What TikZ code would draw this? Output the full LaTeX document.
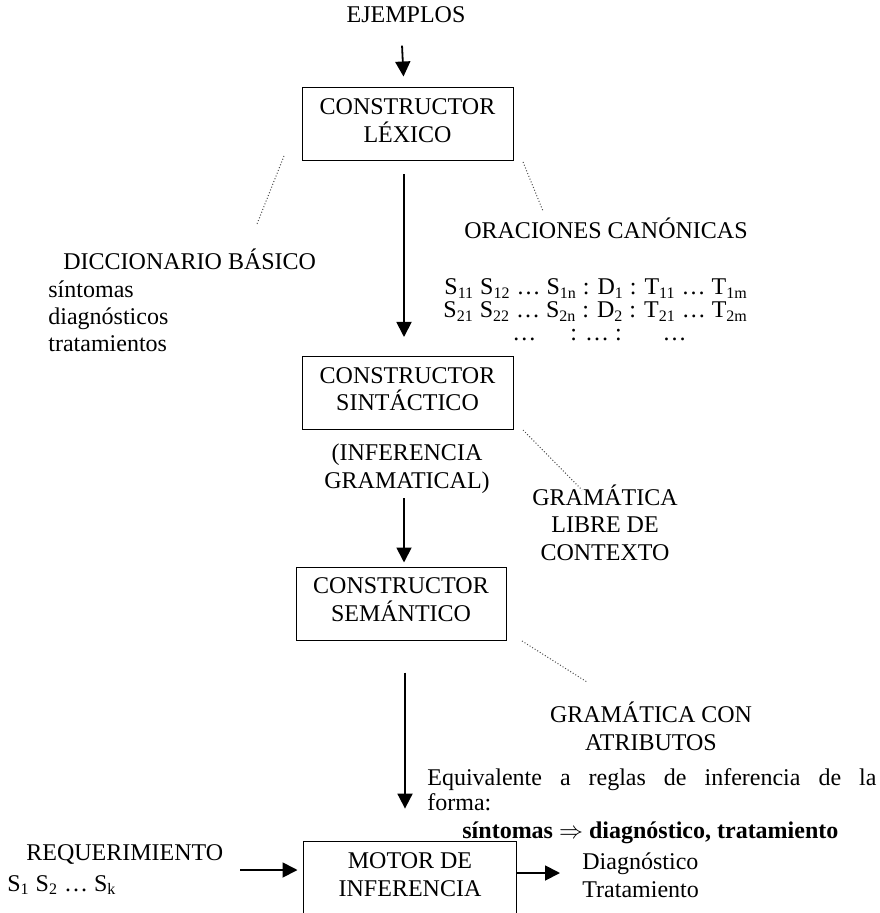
\documentclass[tikz,border=0pt]{standalone}
\usepackage{fontspec}
\setmainfont{Liberation Serif}
\usetikzlibrary{arrows.meta}

\tikzset{
  caja/.style={draw, line width=0.5pt, minimum width=105.5pt, minimum height=36.5pt,
    align=center, text depth=4pt, inner sep=0pt},
  texto/.style={inner sep=0pt, align=center},
  flecha/.style={-{Triangle[width=7.5pt,length=7.5pt]}, line width=0.9pt},
  punteado/.style={densely dotted, line width=0.5pt, black!70}
}

\begin{document}
\fontsize{12pt}{13.7pt}\selectfont
\begin{tikzpicture}[x=0.5pt,y=-0.5pt]
        \useasboundingbox (0,0) rectangle (879,913);
        \clip (0,0) rectangle (879,913);

        % Boxes
        \node (lexico) [caja] at (407.5,124.5) {CONSTRUCTOR\\LÉXICO};
        \node (sintactico) [caja] at (407.5,393) {CONSTRUCTOR\\SINTÁCTICO};
        \node (semantico) [caja, minimum width=105pt] at (401,603.5) {CONSTRUCTOR\\SEMÁNTICO};
        \node (motor) [caja, draw=none, minimum width=106pt] at (410,878.6) {MOTOR DE\\INFERENCIA};
        \draw[line width=0.5pt] ([yshift=-10pt]motor.south west) -- (motor.north west)
          -- (motor.north east) -- ([yshift=-10pt]motor.south east);

        % Labels (multi-line ones sit on the baseline of their last line)
        \node (ejemplos) [texto, anchor=base] at (406,23) {EJEMPLOS};
        \node (dicc) [texto, anchor=base west] at (63,270) {DICCIONARIO BÁSICO};
        \node (dicclista) [texto, align=left, anchor=base west] at (48,352) {síntomas\\diagnósticos\\tratamientos};
        \node (oraciones) [texto, anchor=base] at (606,239) {ORACIONES CANÓNICAS};
        \node (seq1) [texto, anchor=base west] at (444,295)
          {S\textsubscript{11} S\textsubscript{12} … S\textsubscript{1n} : D\textsubscript{1} : T\textsubscript{11} … T\textsubscript{1m}};
        \node (seq2) [texto, anchor=base west] at (443,318)
          {S\textsubscript{21} S\textsubscript{22} … S\textsubscript{2n} : D\textsubscript{2} : T\textsubscript{21} … T\textsubscript{2m}};
        \node (seq3) [texto, anchor=base west] at (512,341) {…\hspace{17pt}: … :\hspace{20.5pt}…};
        \node (inferencia) [texto, anchor=base] at (407,488) {(INFERENCIA\\GRAMATICAL)};
        \node (libre) [texto, anchor=base] at (605,560) {GRAMÁTICA\\LIBRE DE\\CONTEXTO};
        \node (atributos) [texto, anchor=base] at (651,750) {GRAMÁTICA CON\\ATRIBUTOS};
        \node (equiv) [texto, anchor=base west] at (427,785)
          {\makebox[224.5pt][s]{Equivalente a reglas de inferencia de la}};
        \node (forma) [texto, anchor=base west] at (427,810) {forma:};
        \node (regla) [texto, anchor=base west] at (462,838)
          {\textbf{síntomas} $\Rightarrow$ \textbf{diagnóstico, tratamiento}};
        \node (requerimiento) [texto, anchor=base west] at (26,860) {REQUERIMIENTO};
        \node (sintomas) [texto, anchor=base west] at (7,891) {S\textsubscript{1} S\textsubscript{2} … S\textsubscript{k}};
        \node (resultado) [texto, align=left, anchor=base west] at (582,897) {Diagnóstico\\Tratamiento};

        % Arrows
        \draw[flecha, shorten <=11pt, shorten >=5.5pt]
          ([xshift=-2.5pt]ejemplos.south) -- ([xshift=-1.75pt]lexico.north);
        \draw[flecha, shorten <=6.5pt, shorten >=9.5pt]
          ([xshift=-1.75pt]lexico.south) -- ([xshift=-1.75pt]sintactico.north);
        \draw[flecha, shorten <=2.25pt, shorten >=2pt]
          ([xshift=-1.5pt]inferencia.south) -- ([xshift=1.5pt]semantico.north);
        \draw[flecha, shorten <=16pt, shorten >=16.5pt]
          ([xshift=2pt]semantico.south) -- ([xshift=-2.5pt]motor.north);
        \coordinate (entrada) at (240,870);
        \coordinate (salida) at (516,873);
        \draw[flecha, shorten >=3pt] (entrada) -- (entrada -| motor.west);
        \draw[flecha, shorten >=11pt] (salida) -- (salida -| resultado.west);

        % Dotted links
        \coordinate (p1) at (284,156);
        \coordinate (q1) at (257,224);
        \coordinate (p2) at (523,162);
        \coordinate (q2) at (543,211);
        \coordinate (p3) at (523,430);
        \coordinate (q3) at (582,490);
        \coordinate (p4) at (522,641);
        \coordinate (q4) at (587,682);
        \draw[punteado] (p1) -- (q1);
        \draw[punteado] (p2) -- (q2);
        \draw[punteado] (p3) -- (q3);
        \draw[punteado] (p4) -- (q4);
    \end{tikzpicture}
\end{document}
